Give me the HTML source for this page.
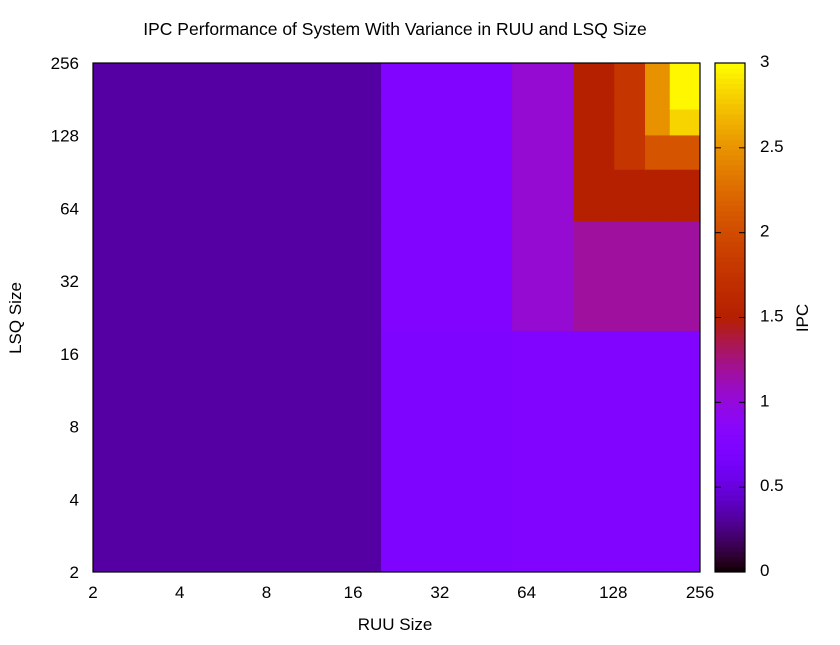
<!DOCTYPE html>
<html><head><meta charset="utf-8"><style>
body{margin:0;background:#fff;}
svg{font-family:"Liberation Sans",sans-serif;}
</style></head><body>
<svg id="chart" width="840" height="640">
<text x="395" y="35" text-anchor="middle" font-size="17.5">IPC Performance of System With Variance in RUU and LSQ Size</text>
<text x="395" y="630" text-anchor="middle" font-size="17">RUU Size</text>
<text transform="translate(21,318) rotate(-90)" text-anchor="middle" font-size="17">LSQ Size</text>
<text transform="translate(808,318) rotate(-90)" text-anchor="middle" font-size="17">IPC</text>
<g id="cells"></g><g id="cbar"></g><g id="axes"></g>
</svg>
<script>
const xEdges=[2,20,57,93,129,165,201,256];
const yEdges=[2,20,57,93,129,165,201,256];
const ipcRows=[
[0.33,0.73,0.75,0.75,0.75,0.75,0.75],
[0.33,0.75,1.04,1.18,1.18,1.18,1.18],
[0.33,0.75,1.04,1.5,1.5,1.5,1.5],
[0.33,0.75,1.04,1.5,1.78,2.07,2.07],
[0.33,0.75,1.04,1.5,1.78,2.49,2.82],
[0.33,0.75,1.04,1.5,1.78,2.49,2.97],
[0.33,0.75,1.04,1.5,1.78,2.49,2.97]
];
const axisTicks=[2,4,8,16,32,64,128,256];
const cbTicks=[0,0.5,1,1.5,2,2.5,3];
const NS="http://www.w3.org/2000/svg";
const L=93,R=700,T=63,B=572,CL=715,CR=745,VMAX=3;
const sx=v=>L+(Math.log2(v)-1)/7*(R-L);
const sy=v=>B-(Math.log2(v)-1)/7*(B-T);
const sc=v=>B-v/VMAX*(B-T);
function pal(v){const g=Math.max(0,Math.min(1,v/VMAX));
const r=Math.sqrt(g),gg=g*g*g,b=Math.max(0,Math.sin(2*Math.PI*g));
return `rgb(${Math.round(r*255)},${Math.round(gg*255)},${Math.round(b*255)})`;}
function mk(t,a,p){const e=document.createElementNS(NS,t);for(const k in a)e.setAttribute(k,a[k]);p.appendChild(e);return e;}
const cells=document.getElementById('cells');
ipcRows.forEach((row,j)=>row.forEach((v,i)=>{
const x0=sx(xEdges[i]),x1=sx(xEdges[i+1]),y0=sy(yEdges[j+1]),y1=sy(yEdges[j]);
const r=mk('rect',{x:x0,y:y0,width:x1-x0+0.5,height:y1-y0+0.5,fill:pal(v)},cells);


}));
const cb=document.getElementById('cbar');
for(let k=0;k<100;k++){const v0=k*VMAX/100,v1=(k+1)*VMAX/100;
const r=mk('rect',{x:CL,y:sc(v1),width:CR-CL,height:sc(v0)-sc(v1)+0.5,fill:pal((v0+v1)/2)},cb);

}
const ax=document.getElementById('axes');
const f=mk('rect',{x:L,y:T,width:R-L,height:B-T,fill:'none',stroke:'#000','stroke-width':1.2},ax);


const cf=mk('rect',{x:CL,y:T,width:CR-CL,height:B-T,fill:'none',stroke:'#000','stroke-width':1.2},ax);


axisTicks.forEach(t=>{
const x=sx(t),y=sy(t);
const a=mk('text',{x:x,y:B+26,'text-anchor':'middle','font-size':17},ax);a.textContent=t;


const b=mk('text',{x:L-14,y:y+6,'text-anchor':'end','font-size':17},ax);b.textContent=t;


});
cbTicks.forEach(t=>{const y=sc(t);
mk('line',{x1:CL,x2:CL+6,y1:y,y2:y,stroke:'#000'},ax);
mk('line',{x1:CR-6,x2:CR,y1:y,y2:y,stroke:'#000'},ax);
const a=mk('text',{x:760,y:y+4,'font-size':17},ax);a.textContent=t;


});
</script>
</body></html>
